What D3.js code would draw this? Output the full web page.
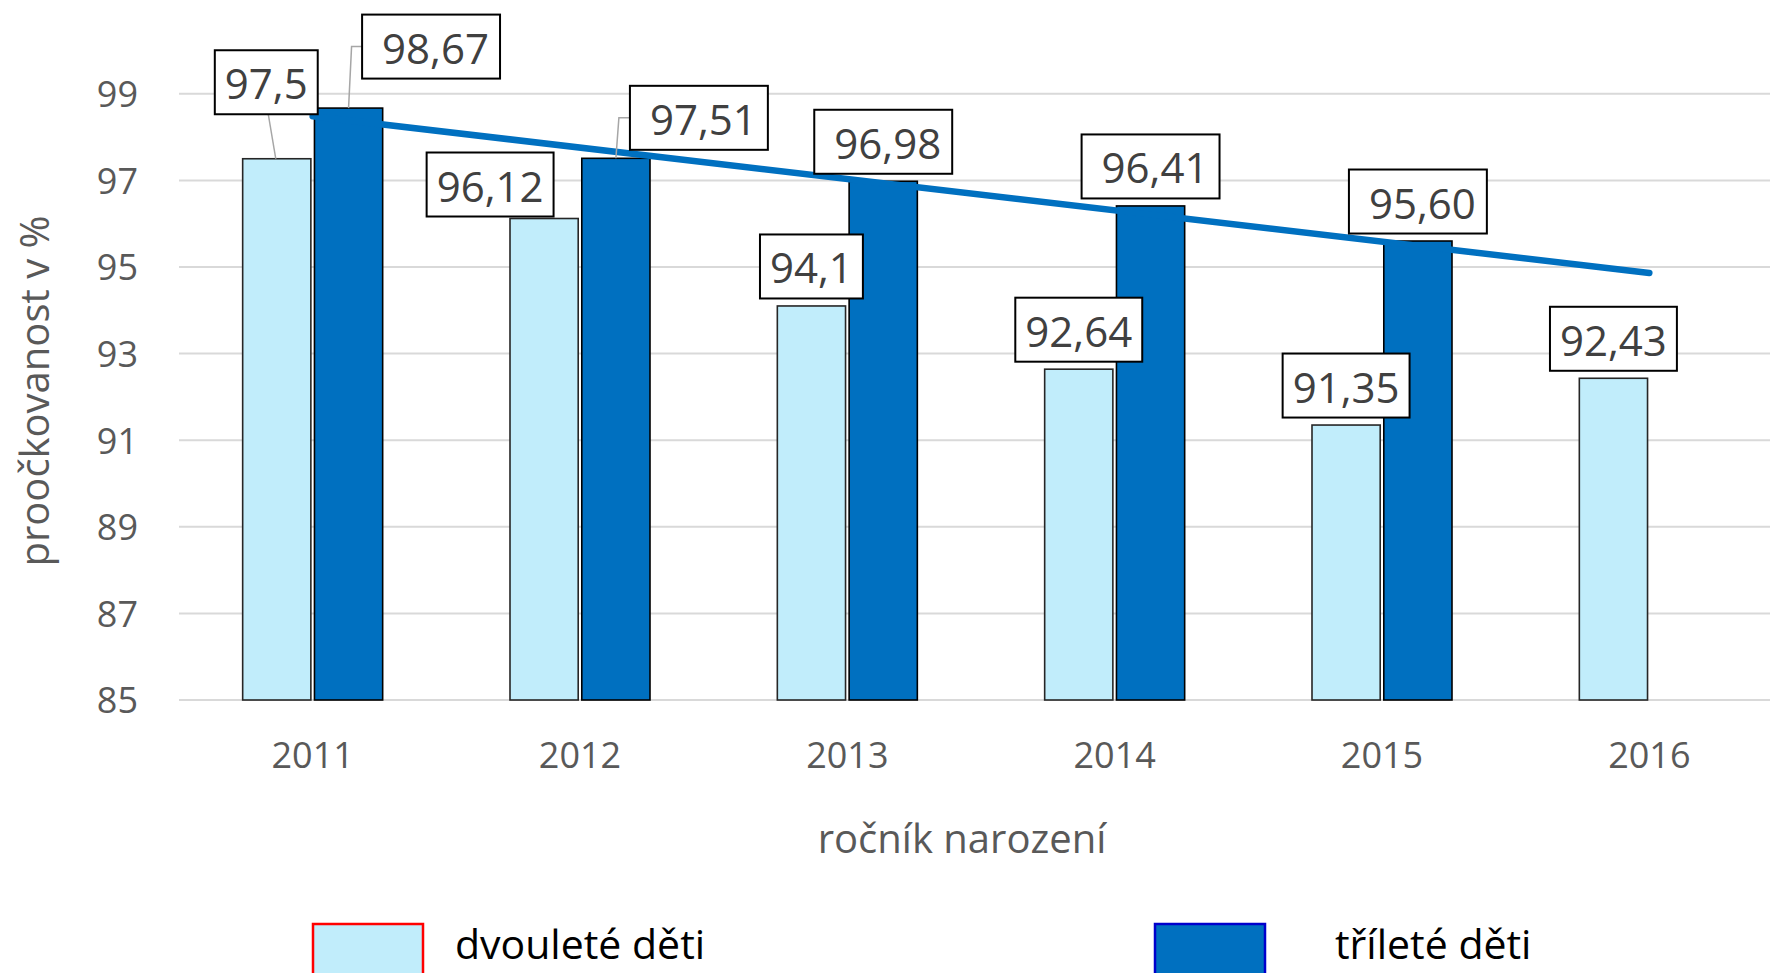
<!DOCTYPE html>
<html>
<head>
<meta charset="utf-8">
<script src="https://cdn.jsdelivr.net/npm/d3@7/dist/d3.min.js"></script>
<style>
  html, body { margin: 0; padding: 0; background: #fff; }
  svg { display: block; font-family: "Open Sans", sans-serif; }
</style>
</head>
<body>
<svg id="chart" width="1770" height="973"></svg>
<script>
// ---- data ----
const years = ["2011", "2012", "2013", "2014", "2015", "2016"];
const seriesNames = ["dvouleté děti", "tříleté děti"];
const dvoulete = [97.5, 96.12, 94.1, 92.64, 91.35, 92.43];
const trilete = [98.67, 97.51, 96.98, 96.41, 95.60, null];
const dvouleteLabels = ["97,5", "96,12", "94,1", "92,64", "91,35", "92,43"];
const trileteLabels = ["98,67", "97,51", "96,98", "96,41", "95,60", null];
const yTicks = [85, 87, 89, 91, 93, 95, 97, 99];
const yTitle = "proočkovanost v %";
const xTitle = "ročník narození";

// ---- layout / style ----
const W = 1770, H = 973;
const plot = { left: 179, right: 1783, top: 50.5, bottom: 700 };
const colors = { dv: "#C1EDFB", tri: "#0070C0", trend: "#0070C0", grid: "#D9D9D9", axisText: "#595959", label: "#404040" };

const svg = d3.select("#chart");

const x = d3.scaleBand().domain(years).range([plot.left, plot.right]).paddingInner(0).paddingOuter(0);
const xs = d3.scaleBand().domain(["dv", "tri"]).range([-70, 70]).paddingInner(0.05);
const y = d3.scaleLinear().domain([85, 100]).range([plot.bottom, plot.top]);

const cx = d => x(d) + x.bandwidth() / 2;

// gridlines
svg.append("g").selectAll("line").data(yTicks).join("line")
  .attr("x1", plot.left).attr("x2", W)
  .attr("y1", d => y(d)).attr("y2", d => y(d))
  .attr("stroke", colors.grid).attr("stroke-width", 2);

// y axis labels
const yAxis = d3.axisLeft(y).tickValues(yTicks).tickSize(0).tickPadding(0).tickFormat(d3.format("d"));
const gy = svg.append("g").attr("transform", `translate(138,0)`).call(yAxis);
gy.select(".domain").remove();
gy.selectAll("text").attr("font-size", 36).attr("fill", colors.axisText)
  .attr("font-family", "Open Sans, sans-serif").attr("dy", "0.36em");

// x axis labels
const xAxis = d3.axisBottom(x).tickSize(0).tickPadding(0);
const gx = svg.append("g").attr("transform", `translate(0,768)`).call(xAxis);
gx.select(".domain").remove();
gx.selectAll("text").attr("font-size", 36).attr("fill", colors.axisText)
  .attr("font-family", "Open Sans, sans-serif").attr("dy", 0).attr("y", 0);

// axis titles
svg.append("text").attr("x", 962).attr("y", 853).attr("text-anchor", "middle")
  .attr("font-size", 40).attr("fill", colors.axisText).text(xTitle);
svg.append("text").attr("transform", "translate(49,391) rotate(-90)").attr("text-anchor", "middle")
  .attr("font-size", 40).attr("fill", colors.axisText).text(yTitle);

// bars
const barData = [];
years.forEach((yr, i) => {
  barData.push({ yr, key: "dv", v: dvoulete[i], label: dvouleteLabels[i], i });
  if (trilete[i] != null) barData.push({ yr, key: "tri", v: trilete[i], label: trileteLabels[i], i });
});

svg.append("g").selectAll("rect").data(barData).join("rect")
  .attr("x", d => cx(d.yr) + xs(d.key))
  .attr("width", xs.bandwidth())
  .attr("y", d => y(d.v))
  .attr("height", d => y(85) - y(d.v))
  .attr("fill", d => d.key === "dv" ? colors.dv : colors.tri)
  .attr("stroke", d => d.key === "dv" ? "#262626" : "#000")
  .attr("stroke-width", 1.6);

// linear trendline (least squares on tříleté děti), extended to last category
const pts = trilete.map((v, i) => [i, v]).filter(p => p[1] != null);
const mx = d3.mean(pts, p => p[0]), my = d3.mean(pts, p => p[1]);
const slope = d3.sum(pts, p => (p[0] - mx) * (p[1] - my)) / d3.sum(pts, p => (p[0] - mx) ** 2);
const icpt = my - slope * mx;
const trendPts = [0, years.length - 1].map(i => [cx(years[i]), y(icpt + slope * i)]);
svg.append("path").attr("d", d3.line()(trendPts))
  .attr("stroke", colors.trend).attr("stroke-width", 6.5).attr("stroke-linecap", "round").attr("fill", "none");

// data labels (some manually moved, as in the original, with leader lines)
const moved = {
  "dv-0": { dx: -10.5, dy: -37, leader: "down" },
  "tri-0": { dx: 82.5, dy: -22, leader: "side" },
  "dv-1": { dx: -54, dy: 5.5 },
  "tri-1": { dx: 83, dy: -1, leader: "side" }
};
const boxH = 64, gap = 7.5, fs = 42;
const gl = svg.append("g");
const gLeader = gl.append("g");
const gBox = gl.append("g");
barData.forEach(d => {
  const m = moved[d.key + "-" + d.i] || { dx: 0, dy: 0 };
  const barCx = cx(d.yr) + xs(d.key) + xs.bandwidth() / 2;
  const barTop = y(d.v);
  const bcx = barCx + m.dx;
  const bottom = barTop - gap + m.dy;
  const top = bottom - boxH;
  const g = gBox.append("g");
  const rect = g.append("rect");
  const t = g.append("text").attr("font-size", fs).attr("fill", colors.label).text(d.label);
  const tw = t.node().getComputedTextLength();
  const padL = d.key === "tri" ? 20 : 10, padR = d.key === "tri" ? 11 : 10;
  const bw = tw + padL + padR;
  const bx = bcx - bw / 2;
  rect.attr("x", bx).attr("y", top).attr("width", bw).attr("height", boxH)
    .attr("fill", "#fff").attr("stroke", "#000").attr("stroke-width", 2);
  t.attr("x", bx + padL).attr("y", top + 49);
  if (m.leader === "down") {
    gLeader.append("line").attr("x1", bcx + 2).attr("y1", bottom).attr("x2", barCx - 1).attr("y2", barTop)
      .attr("stroke", "#A6A6A6").attr("stroke-width", 1.5);
  } else if (m.leader === "side") {
    const my2 = top + boxH / 2;
    gLeader.append("path").attr("d", d3.line()([[bx, my2], [barCx + 3, my2], [barCx, barTop]]))
      .attr("stroke", "#A6A6A6").attr("stroke-width", 1.5).attr("fill", "none");
  }
});

// legend
const legend = [
  { name: seriesNames[0], fill: colors.dv, stroke: "#FF0000", rx: 313, tx: 455 },
  { name: seriesNames[1], fill: colors.tri, stroke: "#0000CC", rx: 1155, tx: 1335 }
];
const lg = svg.append("g");
legend.forEach(l => {
  lg.append("rect").attr("x", l.rx).attr("y", 924).attr("width", 110).attr("height", 60)
    .attr("fill", l.fill).attr("stroke", l.stroke).attr("stroke-width", 2.5);
  lg.append("text").attr("x", l.tx).attr("y", 959).attr("font-size", 41).attr("fill", "#000").text(l.name);
});
</script>
</body>
</html>
